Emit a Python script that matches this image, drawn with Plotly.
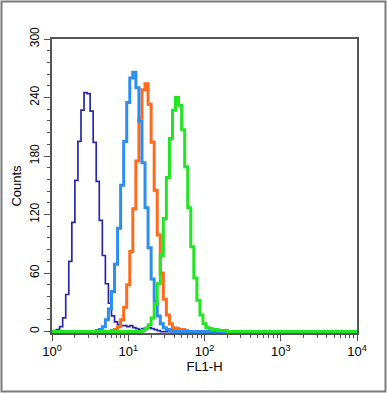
import numpy as np
import plotly.graph_objects as go

# Channel grid: 101 channels spanning 4 decades of FL1-H
n_channels = 101
channel_log = np.arange(n_channels) * 0.04
fl1_h = 10 ** channel_log

# Counts per channel, with the index of the first listed channel
dark_blue_start = 0
dark_blue_counts = [0, 1, 2, 5, 14, 38, 72, 112, 155, 195, 227, 245, 244, 226, 194, 154,
                    114, 78, 49, 29, 16, 10, 7, 6, 6, 5, 6, 4, 3, 2, 3, 4, 4, 3, 2, 1]

light_blue_start = 15
light_blue_counts = [1, 2, 5, 12, 23, 41, 69, 106, 150, 195, 235, 260, 266, 250, 216, 173,
                     127, 86, 54, 31, 16, 8, 4, 2, 1]

orange_start = 20
orange_counts = [1, 2, 5, 12, 25, 48, 82, 126, 175, 219, 248, 254, 233, 194, 145, 99,
                 60, 33, 17, 8, 4, 3, 2, 2, 1]

green_start = 30
green_counts = [1, 3, 7, 14, 28, 49, 78, 116, 158, 198, 227, 240, 232, 207, 169, 127,
                87, 55, 32, 17, 8, 4, 3, 2, 2, 1, 1, 1]

y_ticks = [0, 60, 120, 180, 240, 300]
x_tickvals = [1, 10, 100, 1000, 10000]
x_ticktext = ["10<sup>0</sup>", "10<sup>1</sup>", "10<sup>2</sup>", "10<sup>3</sup>", "10<sup>4</sup>"]


def full(start, counts):
    arr = [0] * n_channels
    for k, c in enumerate(counts):
        arr[start + k] = c
    return arr


series = [
    ("dark blue", full(dark_blue_start, dark_blue_counts), "#2828ac", 1.7),
    ("orange", full(orange_start, orange_counts), "#ff6a1c", 3),
    ("light blue", full(light_blue_start, light_blue_counts), "#2c8ff0", 3),
    ("green", full(green_start, green_counts), "#22e622", 3),
]

fig = go.Figure()
for name, y, color, w in series:
    fig.add_trace(go.Scatter(x=fl1_h, y=y, mode="lines", name=name,
                             line=dict(color=color, width=w, shape="hvh"),
                             showlegend=False, hoverinfo="skip"))

axis_col = "#555555"
font_fam = "Liberation Sans, Arial, sans-serif"

fig.update_layout(
    width=387, height=393, autosize=False,
    margin=dict(l=52, r=30, t=39, b=60),
    paper_bgcolor="white", plot_bgcolor="white",
    font=dict(family=font_fam, size=13, color="black"),
    xaxis=dict(type="log", range=[0, 4], tickvals=x_tickvals, ticktext=x_ticktext,
               ticks="outside", ticklen=6, tickwidth=1.2, tickcolor=axis_col,
               minor=dict(ticks="outside", ticklen=3, tickcolor=axis_col, dtick="D1", showgrid=False),
               showline=True, linecolor=axis_col, linewidth=1.5, mirror=True,
               showgrid=False, zeroline=False, layer="below traces",
               title=dict(text="FL1-H", font=dict(size=13), standoff=2),
               tickfont=dict(size=13)),
    yaxis=dict(range=[-1.5, 300], tickvals=y_ticks, tickangle=-90,
               ticks="outside", ticklen=6, tickwidth=1.2, tickcolor=axis_col,
               minor=dict(ticks="outside", ticklen=3, tickcolor=axis_col, dtick=12, showgrid=False),
               showline=True, linecolor=axis_col, linewidth=1.5, mirror=True,
               showgrid=False, zeroline=False, layer="below traces",
               title=dict(text="Counts", font=dict(size=13), standoff=4),
               tickfont=dict(size=12)),
    shapes=[dict(type="rect", xref="paper", yref="paper",
                 x0=-0.1656, x1=1.0934, y0=-0.199, y1=1.1276,
                 line=dict(color="#7a7a7a", width=2), layer="below")],
)

fig.write_html("out.html", config={"displayModeBar": False},
               post_script="document.body.style.margin='0';document.body.style.padding='0';")
